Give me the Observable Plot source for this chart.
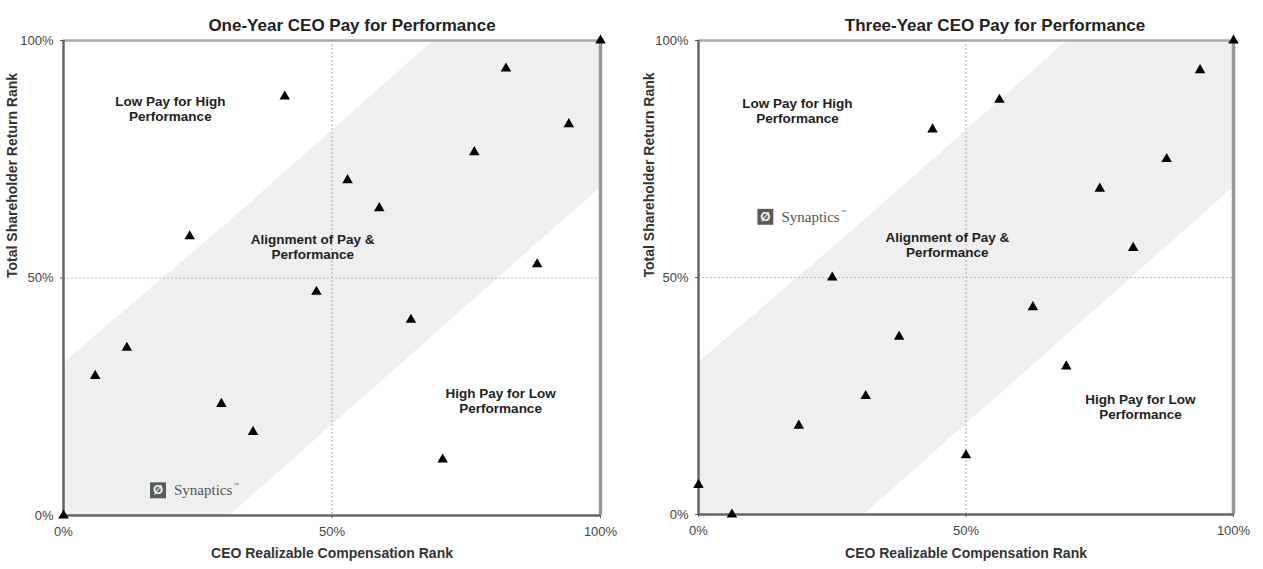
<!DOCTYPE html>
<html>
<head>
<meta charset="utf-8">
<script src="https://cdn.jsdelivr.net/npm/d3@7"></script>
<script src="https://cdn.jsdelivr.net/npm/@observablehq/plot@0.6"></script>
<style>
  html, body { margin: 0; padding: 0; background: #fff; }
  #wrap { display: flex; flex-direction: row; width: 1263px; height: 569px; overflow: hidden; }
  #wrap svg { display: block; }
</style>
</head>
<body>
<div id="wrap"></div>
<script>
// ---- Data ----
const oneYearTitle = "One-Year CEO Pay for Performance";
const threeYearTitle = "Three-Year CEO Pay for Performance";
const xLabel = "CEO Realizable Compensation Rank";
const yLabel = "Total Shareholder Return Rank";
const tickValues = [0, 0.5, 1];

// One-year peers: CEO realizable compensation rank (x) vs TSR rank (y)
const oneYearX = [0, 0.059, 0.118, 0.235, 0.294, 0.353, 0.412, 0.471, 0.529, 0.588, 0.647, 0.706, 0.765, 0.824, 0.882, 0.941, 1];
const oneYearY = [0, 0.294, 0.353, 0.588, 0.235, 0.176, 0.882, 0.471, 0.706, 0.647, 0.412, 0.118, 0.765, 0.941, 0.529, 0.824, 1];
const oneYearLogo = [0.176, 0.053];

// Three-year peers
const threeYearX = [0, 0.0625, 0.1875, 0.25, 0.3125, 0.375, 0.4375, 0.5, 0.5625, 0.625, 0.6875, 0.75, 0.8125, 0.875, 0.9375, 1];
const threeYearY = [0.0625, 0, 0.1875, 0.5, 0.25, 0.375, 0.8125, 0.125, 0.875, 0.4375, 0.3125, 0.6875, 0.5625, 0.75, 0.9375, 1];
const threeYearLogo = [0.125, 0.628];

// Alignment band (lower and upper edges)
const bandX  = [0, 0.31, 0.69, 1];
const bandLo = [0, 0, 0.38, 0.69];
const bandHi = [0.32, 0.62, 1, 1];

// Region labels
const noteTexts = ["Low Pay for High\nPerformance", "Alignment of Pay &\nPerformance", "High Pay for Low\nPerformance"];
const oneYearNoteX = [0.199, 0.464, 0.814];
const oneYearNoteY = [0.857, 0.566, 0.242];
const threeYearNoteX = [0.185, 0.465, 0.826];
const threeYearNoteY = [0.852, 0.570, 0.228];

// ---- Build ----
const band = bandX.map((x, i) => ({x, lo: bandLo[i], hi: bandHi[i]}));
const FONT = "Arial, 'Liberation Sans', Helvetica, sans-serif";
const pct = d3.format(".0%");

function chart(cfg) {
  const pts = cfg.xs.map((x, i) => ({x, y: cfg.ys[i]}));
  const notes = noteTexts.map((t, i) => ({t, x: cfg.nx[i], y: cfg.ny[i]}));
  const logo = [{x: cfg.logo[0], y: cfg.logo[1]}];
  return Plot.plot({
    width: cfg.width,
    height: 569,
    marginLeft: cfg.ml,
    marginRight: cfg.mr,
    marginTop: 40,
    marginBottom: cfg.mb,
    x: {domain: [0, 1]},
    y: {domain: [0, 1]},
    style: {fontFamily: FONT, background: "white", overflow: "visible"},
    marks: [
      Plot.areaY(band, {x: "x", y1: "lo", y2: "hi", fill: "#efefef"}),
      Plot.ruleX([0.5], {stroke: "#aaa", strokeDasharray: "2,2", strokeWidth: 1}),
      Plot.ruleY([0.5], {stroke: "#bbb", strokeDasharray: "2,2", strokeWidth: 1}),
      Plot.ruleY([1], {stroke: "#aaa", strokeWidth: 2.5}),
      Plot.ruleX([1], {stroke: "#999", strokeWidth: 3.5}),
      Plot.ruleX([0], {stroke: "#666", strokeWidth: 2.5}),
      Plot.ruleY([0], {stroke: "#666", strokeWidth: 2.5}),
      Plot.axisY({ticks: tickValues, tickFormat: pct, tickSize: 3, tickPadding: 7, fontSize: 13, fill: "#444", stroke: "#555", label: null}),
      Plot.axisX({ticks: tickValues, tickFormat: pct, tickSize: 3, tickPadding: 8, fontSize: 13, fill: "#444", stroke: "#555", label: null}),
      Plot.text([cfg.title], {frameAnchor: "top", dy: -22, dx: cfg.titleDx, fontSize: 17, fontWeight: "bold", fill: "#222"}),
      Plot.text([xLabel], {frameAnchor: "bottom", dy: cfg.xlDy, fontSize: 14, fontWeight: "bold", fill: "#333"}),
      Plot.text([yLabel], {frameAnchor: "left", dx: cfg.ylDx, rotate: -90, fontSize: 14, fontWeight: "bold", fill: "#333"}),
      Plot.text(notes, {x: "x", y: "y", text: "t", fontSize: 13.5, fontWeight: "bold", fill: "#222", lineHeight: 1.15}),
      // Synaptics logo
      Plot.dot(logo, {x: "x", y: "y", symbol: "square", r: 9, fill: "#5a5a5a"}),
      Plot.text(logo, {x: "x", y: "y", text: () => "Ø", fontSize: 13, fontWeight: "bold", fill: "#eee"}),
      Plot.text(logo, {x: "x", y: "y", text: () => "Synaptics", dx: 16, textAnchor: "start", fontSize: 15, fontFamily: "'Liberation Serif', 'DejaVu Serif', serif", fill: "#555"}),
      Plot.text(logo, {x: "x", y: "y", text: () => "™", dx: 75, dy: -5, textAnchor: "start", fontSize: 6, fill: "#777"}),
      Plot.dot(pts, {x: "x", y: "y", symbol: "triangle", r: 3.9, fill: "black", stroke: "none"})
    ]
  });
}

const wrap = document.getElementById("wrap");
wrap.append(chart({
  title: oneYearTitle, xs: oneYearX, ys: oneYearY, logo: oneYearLogo,
  nx: oneYearNoteX, ny: oneYearNoteY,
  width: 631, ml: 63, mr: 31, mb: 54, titleDx: 20, xlDy: 42, ylDx: -51
}));
wrap.append(chart({
  title: threeYearTitle, xs: threeYearX, ys: threeYearY, logo: threeYearLogo,
  nx: threeYearNoteX, ny: threeYearNoteY,
  width: 632, ml: 67, mr: 30, mb: 55, titleDx: 29, xlDy: 43, ylDx: -49
}));
</script>
</body>
</html>
